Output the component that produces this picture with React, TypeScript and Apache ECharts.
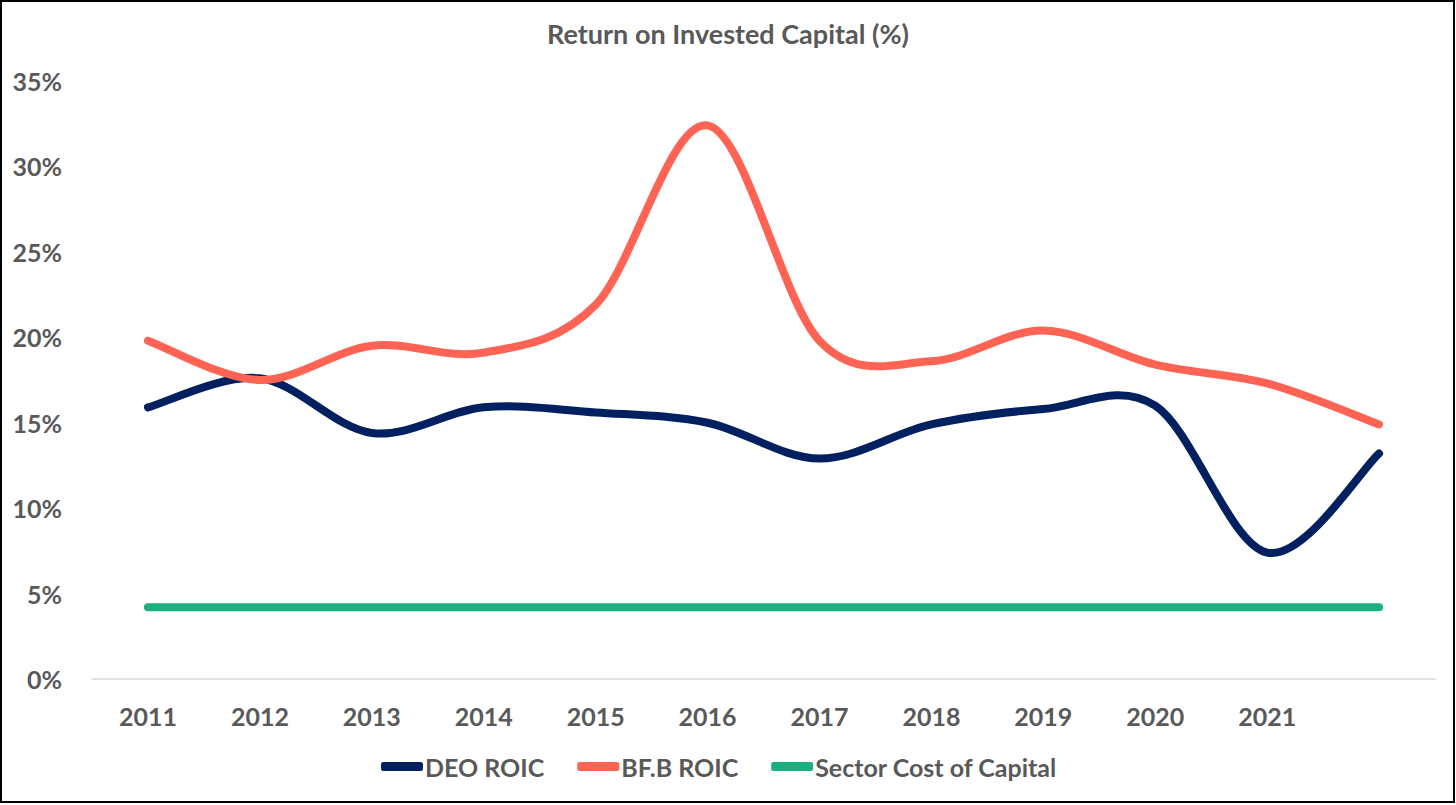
import React, { useEffect, useRef } from "react";
import * as echarts from "echarts";

const years = ["2011", "2012", "2013", "2014", "2015", "2016", "2017", "2018", "2019", "2020", "2021", ""];
const deoRoic = [15.9, 17.6, 14.4, 15.9, 15.6, 15.0, 12.9, 14.9, 15.8, 16.0, 7.4, 13.2];
const bfbRoic = [19.8, 17.5, 19.5, 19.1, 21.9, 32.4, 19.8, 18.6, 20.4, 18.4, 17.3, 14.9];
const sectorCost = [4.2, 4.2, 4.2, 4.2, 4.2, 4.2, 4.2, 4.2, 4.2, 4.2, 4.2, 4.2];

const FONT = "Lato";
const TXT = "#595959";

function splineSeries(name: string, values: number[], color: string) {
  return {
    name,
    type: "custom",
    color,
    itemStyle: { color },
    data: values.map((v, i) => [i, v]),
    encode: { x: 0, y: 1 },
    renderItem: (params: any, api: any) => {
      if (params.dataIndex !== 0) return null;
      const pts = values.map((v, i) => api.coord([i, v]));
      const n = pts.length;
      let d = `M${pts[0][0]},${pts[0][1]}`;
      for (let i = 0; i < n - 1; i++) {
        const p0 = pts[Math.max(0, i - 1)];
        const p1 = pts[i];
        const p2 = pts[i + 1];
        const p3 = pts[Math.min(n - 1, i + 2)];
        const c1x = p1[0] + (p2[0] - p0[0]) / 6;
        const c1y = p1[1] + (p2[1] - p0[1]) / 6;
        const c2x = p2[0] - (p3[0] - p1[0]) / 6;
        const c2y = p2[1] - (p3[1] - p1[1]) / 6;
        d += ` C${c1x},${c1y} ${c2x},${c2y} ${p2[0]},${p2[1]}`;
      }
      return {
        type: "path",
        shape: { pathData: d },
        style: { fill: "none", stroke: color, lineWidth: 8, lineCap: "round", lineJoin: "round" },
        silent: true,
      };
    },
  };
}

export default function App() {
  const ref = useRef<HTMLDivElement>(null);
  useEffect(() => {
    document.body.style.margin = "0";
    const chart = echarts.init(ref.current!, null, { renderer: "svg" });
    chart.setOption({
      animation: false,
      backgroundColor: "#fff",
      textStyle: { fontFamily: FONT },
      title: {
        text: "Return on Invested Capital (%)",
        left: "center",
        top: 15,
        textStyle: { fontFamily: FONT, fontWeight: "bold", fontSize: 27, color: TXT },
      },
      graphic: [
        {
          type: "rect",
          shape: { x: 1, y: 1, width: 1453, height: 801 },
          style: { fill: "none", stroke: "#000", lineWidth: 2 },
          silent: true,
        },
      ],
      legend: {
        left: 376,
        top: 749,
        itemWidth: 42,
        itemHeight: 9,
        itemGap: 33,
        icon: "roundRect",
        textStyle: { fontFamily: FONT, fontWeight: "bold", fontSize: 25, color: TXT, padding: [0, 0, 0, -3] },
        data: ["DEO ROIC", "BF.B ROIC", "Sector Cost of Capital"],
      },
      grid: { left: 92, right: 21, top: 81, bottom: 126, containLabel: false },
      xAxis: {
        type: "category",
        data: years,
        boundaryGap: true,
        axisLine: { show: true, lineStyle: { color: "#D9D9D9", width: 1.5 } },
        axisTick: { show: false },
        axisLabel: { fontFamily: FONT, fontWeight: "bold", fontSize: 25, color: TXT, margin: 24 },
      },
      yAxis: {
        type: "value",
        min: 0,
        max: 35,
        interval: 5,
        axisLine: { show: false },
        axisTick: { show: false },
        splitLine: { show: false },
        axisLabel: { formatter: "{value}%", fontFamily: FONT, fontWeight: "bold", fontSize: 25, color: TXT, margin: 30 },
      },
      series: [
        splineSeries("DEO ROIC", deoRoic, "#002060"),
        splineSeries("BF.B ROIC", bfbRoic, "#FF6354"),
        {
          name: "Sector Cost of Capital",
          type: "line",
          data: sectorCost,
          symbol: "none",
          color: "#1BB07F",
          lineStyle: { width: 8, cap: "round", color: "#1BB07F" },
        },
      ],
    });
    return () => chart.dispose();
  }, []);
  return <div ref={ref} style={{ position: "absolute", left: 0, top: 0, width: 1456, height: 805 }} />;
}
